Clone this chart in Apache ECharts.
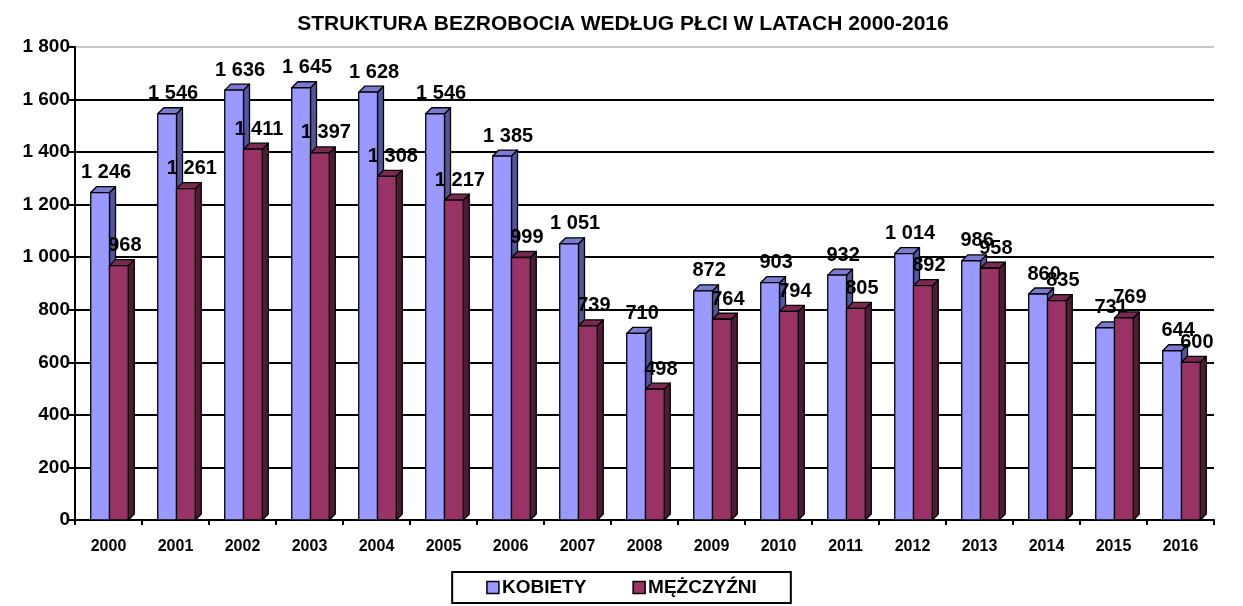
<!DOCTYPE html>
<html><head><meta charset="utf-8">
<script src="https://cdn.jsdelivr.net/npm/echarts@6/dist/echarts.min.js"></script>
<style>html,body{margin:0;padding:0;background:#fff}#c{width:1243px;height:606px}</style>
</head><body><div id="c"></div>
<script>
var categories = ['2000','2001','2002','2003','2004','2005','2006','2007','2008','2009','2010','2011','2012','2013','2014','2015','2016'];
var kobiety = [1246,1546,1636,1645,1628,1546,1385,1051,710,872,903,932,1014,986,860,731,644];
var mezczyzni = [968,1261,1411,1397,1308,1217,999,739,498,764,794,805,892,958,835,769,600];
var seriesNames = ['KOBIETY','MĘŻCZYŹNI'];
var titleText = 'STRUKTURA BEZROBOCIA WEDŁUG PŁCI W LATACH 2000-2016';

var FONT = '"Liberation Sans", Arial, Helvetica, sans-serif';
function fmt(v){ return String(v).replace(/\B(?=(\d{3})+(?!\d))/g,' '); }

var faces = [
  {front:'#9999FF', side:'#55559A', top:'#7B7BD0'},
  {front:'#993366', side:'#4F1A35', top:'#7A2951'}
];

function makeRender(s){
  return function(params, api){
    var idx = api.value(0), val = api.value(1);
    var p = api.coord([idx, val]);
    var b = api.coord([idx, 0]);
    var bw = api.size([1,0])[0];
    var w = bw*0.28, d = 6;
    var x0 = (s===0 ? p[0]-w : p[0]) + 1;
    var f = faces[s];
    var ls = {stroke:'#000', lineWidth:1.3, lineJoin:'round'};
    return {type:'group', children:[
      {type:'polygon', shape:{points:[[x0+w,p[1]],[x0+w+d,p[1]-d],[x0+w+d,b[1]-d],[x0+w,b[1]]]}, style:Object.assign({fill:f.side},ls)},
      {type:'polygon', shape:{points:[[x0,p[1]],[x0+d,p[1]-d],[x0+w+d,p[1]-d],[x0+w,p[1]]]}, style:Object.assign({fill:f.top},ls)},
      {type:'rect', shape:{x:x0,y:p[1],width:w,height:b[1]-p[1]}, style:Object.assign({fill:f.front},ls)},
      {type:'text', style:{text:fmt(val), x:x0+w/2+d/2+3, y:p[1]-10, align:'center', verticalAlign:'bottom', font:'bold 20px ' + FONT, fill:'#000'}}
    ]};
  };
}

var gridColors = ['#000','#000','#000','#000','#000','#000','#000','#000','#000','#c8c8c8'];

var chart = echarts.init(document.getElementById('c'), null, {renderer:'canvas'});
chart.setOption({
  animation:false,
  backgroundColor:'#fff',
  title:{text:titleText, left:618, textAlign:'center', top:9, textStyle:{fontFamily:FONT, fontWeight:'bold', fontSize:21, color:'#000'}},
  legend:{
    data:seriesNames, top:572, left:'center',
    padding:[6,34,6,34], itemGap:46,
    borderColor:'#000', borderWidth:2,
    itemWidth:12, itemHeight:12, icon:'rect',
    itemStyle:{borderColor:'#000', borderWidth:1.5},
    textStyle:{fontFamily:FONT, fontWeight:'bold', fontSize:19, color:'#000', padding:[0,0,0,-2]}
  },
  grid:{left:75, right:29, top:47, bottom:86, containLabel:false},
  xAxis:{type:'category', data:categories, boundaryGap:true,
    axisLine:{lineStyle:{color:'#000', width:2}},
    axisTick:{show:true, length:5, lineStyle:{color:'#000', width:2}},
    axisLabel:{fontFamily:FONT, fontWeight:'bold', fontSize:16, color:'#000', margin:19}},
  yAxis:{type:'value', min:0, max:1800, interval:200,
    axisLine:{show:true, lineStyle:{color:'#000', width:2}},
    axisTick:{show:true, length:6, lineStyle:{color:'#000', width:2}},
    axisLabel:{fontFamily:FONT, fontWeight:'bold', fontSize:19, color:'#000', margin:5, formatter:function(v){return fmt(v);}},
    splitLine:{show:true, lineStyle:{color:gridColors, width:2}}},
  series:[
    {name:seriesNames[0], type:'custom', renderItem:makeRender(0), itemStyle:{color:faces[0].front, borderColor:'#000', borderWidth:1.5},
     encode:{x:0,y:1}, data:kobiety.map(function(v,i){return [i,v];})},
    {name:seriesNames[1], type:'custom', renderItem:makeRender(1), itemStyle:{color:faces[1].front, borderColor:'#000', borderWidth:1.5},
     encode:{x:0,y:1}, data:mezczyzni.map(function(v,i){return [i,v];})}
  ]
});
</script></body></html>
